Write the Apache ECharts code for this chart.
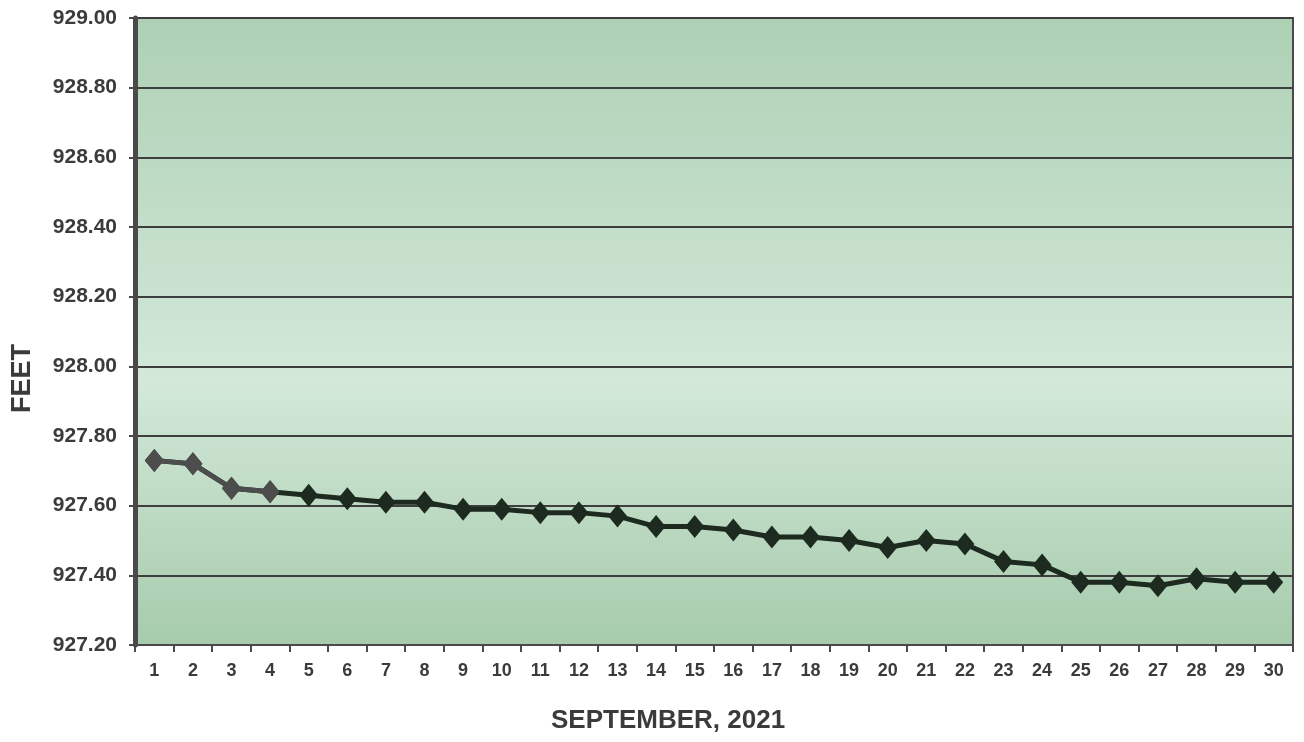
<!DOCTYPE html>
<html><head><meta charset="utf-8">
<script src="https://cdn.jsdelivr.net/npm/echarts@6/dist/echarts.min.js"></script>
<style>html,body{margin:0;padding:0;background:#fff}#c{width:1304px;height:742px}</style>
</head><body><div id="c"></div>
<script>
const days = ['1','2','3','4','5','6','7','8','9','10','11','12','13','14','15','16','17','18','19','20','21','22','23','24','25','26','27','28','29','30'];
const feet = [927.73,927.72,927.65,927.64,927.63,927.62,927.61,927.61,927.59,927.59,927.58,927.58,927.57,927.54,927.54,927.53,927.51,927.51,927.50,927.48,927.50,927.49,927.44,927.43,927.38,927.38,927.37,927.39,927.38,927.38];
const yMin = 927.2, yMax = 929.0, yStep = 0.2;
const xTitle = 'SEPTEMBER, 2021';
const yTitle = 'FEET';
const fadedCount = 4; // first points appear grey in the scan

const chart = echarts.init(document.getElementById('c'));
const font = 'Liberation Sans, Arial, sans-serif';
const txt = '#3b3b3b';
chart.setOption({
  backgroundColor: '#fff',
  animation: false,
  grid: {left: 135, right: 11, top: 18, bottom: 97, show: true,
    backgroundColor: new echarts.graphic.LinearGradient(0,0,0,1,[
      {offset:0,color:'#add0b4'},{offset:0.58,color:'#d3e8d9'},{offset:1,color:'#a6cbac'}]),
    borderColor:'#4a4a4a', borderWidth:2},
  graphic: [
    {type:'text', left: 551, top: 708, style:{text: xTitle, font: 'bold 26px ' + font, fill: txt}},
    {type:'text', x: 9, y: 413, rotation: Math.PI/2,
      style:{text: yTitle, font: 'bold 27px ' + font, fill: txt, textAlign:'left', textVerticalAlign:'top'}}
  ],
  xAxis: {type:'category', data: days, boundaryGap:true,
    axisLine:{lineStyle:{color:'#4a4a4a', width:2}},
    axisTick:{show:true, alignWithLabel:false, length:7, lineStyle:{color:'#4a4a4a', width:2}},
    axisLabel:{fontFamily:font, fontWeight:'bold', fontSize:18, color:txt, margin:17}},
  yAxis: {type:'value', min:yMin, max:yMax, interval:yStep,
    axisLine:{show:true, lineStyle:{color:'#4a4a4a', width:5}},
    axisTick:{show:true, length:6, lineStyle:{color:'#4a4a4a', width:2}},
    splitLine:{lineStyle:{color:'#3e3e3e', width:2}},
    axisLabel:{fontFamily:font, fontWeight:'bold', fontSize:21, color:txt, margin:18,
      formatter: v => v.toFixed(2)}},
  series: [
    {type:'line', data: feet, symbol:'diamond', symbolSize:[19,23],
      itemStyle:{color:'#1c2a20'}, lineStyle:{width:5, color:'#1c2a20'}, z:5},
    {type:'line', data: feet.map((v,i) => i < fadedCount ? v : '-'), symbol:'diamond', symbolSize:[19,23],
      itemStyle:{color:'#4d4d4d'}, lineStyle:{width:5, color:'#4d4d4d'}, z:6}
  ]
});
</script></body></html>
